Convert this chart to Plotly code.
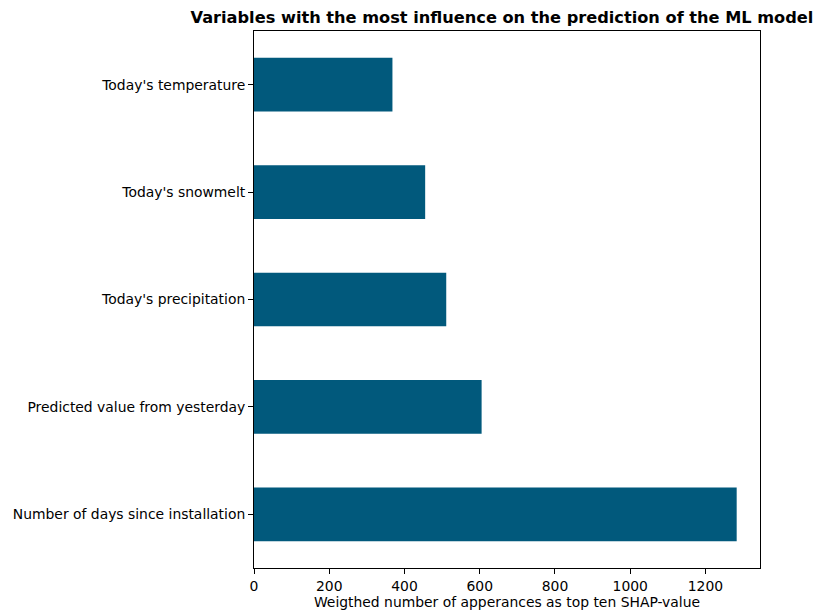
import plotly.graph_objects as go

categories = [
    "Number of days since installation",
    "Predicted value from yesterday",
    "Today's precipitation",
    "Today's snowmelt",
    "Today's temperature",
]
values = [1283, 605, 511, 455, 368]

title_text = "Variables with the most influence on the prediction of the ML model"
xlabel = "Weigthed number of apperances as top ten SHAP-value"
xticks = [0, 200, 400, 600, 800, 1000, 1200]

fig = go.Figure(
    go.Bar(
        x=values,
        y=categories,
        orientation="h",
        width=0.5,
        marker=dict(color="#01597c", line=dict(width=0)),
    )
)

font = "DejaVu Sans, Arial, sans-serif"
fig.update_layout(
    width=819,
    height=604,
    margin=dict(l=246, r=67, t=23, b=44),
    paper_bgcolor="white",
    plot_bgcolor="white",
    showlegend=False,
    font=dict(family=font, size=13.9, color="black"),
    title=dict(
        text="<b>" + title_text + "</b>",
        xref="paper", x=0.49, xanchor="center",
        yref="container", y=0.985, yanchor="middle",
        font=dict(family=font, size=16.2, color="black"),
    ),
    xaxis=dict(
        range=[0, 1345],
        tickvals=xticks,
        ticks="outside", ticklen=5, tickwidth=1, tickcolor="black",
        showline=True, linecolor="black", linewidth=1, mirror=True,
        showgrid=False, zeroline=False, automargin=False,
        title=dict(text=xlabel, standoff=4, font=dict(size=13.9)),
        tickfont=dict(size=13.9),
    ),
    yaxis=dict(
        type="category",
        categoryorder="array", categoryarray=categories,
        range=[-0.5, 4.5],
        ticks="outside", ticklen=5, tickwidth=1, tickcolor="black",
        showline=True, linecolor="black", linewidth=1, mirror=True,
        showgrid=False, zeroline=False, automargin=False,
        tickfont=dict(size=13.9),
    ),
)

fig.write_html("out.html")
